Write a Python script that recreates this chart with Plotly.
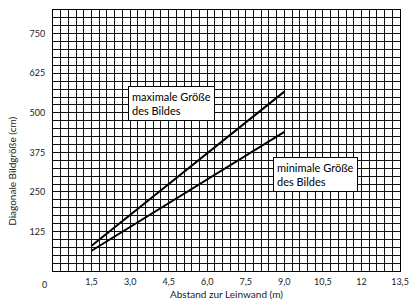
import plotly.graph_objects as go

# Data
distance_m = [1.5, 9.0]
max_size_cm = [80, 567]
min_size_cm = [64, 440]

x_tickvals = [1.5, 3.0, 4.5, 6.0, 7.5, 9.0, 10.5, 12.0, 13.5]
x_ticktext = ["1,5", "3,0", "4,5", "6,0", "7,5", "9,0", "10,5", "12", "13,5"]
y_tickvals = [125, 250, 375, 500, 625, 750]
y_ticktext = ["125", "250", "375", "500", "625", "750"]

FONT = "Lato"
GRID = "#111111"

fig = go.Figure()
fig.add_trace(go.Scatter(x=distance_m, y=max_size_cm, mode="lines",
                         line=dict(color="black", width=2), showlegend=False))
fig.add_trace(go.Scatter(x=distance_m, y=min_size_cm, mode="lines",
                         line=dict(color="black", width=2), showlegend=False))

fig.update_layout(
    width=418, height=300,
    margin=dict(l=53, r=9, t=9, b=29),
    paper_bgcolor="white", plot_bgcolor="white",
    font=dict(family=FONT, size=9, color="#222"),
    xaxis=dict(range=[0, 13.5], tickvals=x_tickvals, ticktext=x_ticktext,
               showgrid=True, gridcolor=GRID, gridwidth=1,
               minor=dict(tick0=0, dtick=0.3, showgrid=True, gridcolor=GRID, gridwidth=1),
               showline=True, linecolor="black", linewidth=1, mirror=True,
               zeroline=False, ticks="", ticklabelstandoff=2,
               tickfont=dict(family=FONT, size=9, color="#222")),
    yaxis=dict(range=[0, 825], tickvals=y_tickvals, ticktext=y_ticktext,
               showgrid=True, gridcolor=GRID, gridwidth=1,
               minor=dict(tick0=0, dtick=25, showgrid=True, gridcolor=GRID, gridwidth=1),
               showline=True, linecolor="black", linewidth=1, mirror=True,
               zeroline=False, ticks="", ticklabelstandoff=5,
               tickfont=dict(family=FONT, size=9, color="#222")),
    annotations=[
        dict(x=0, y=0, xref="x", yref="y", text="0", showarrow=False,
             xanchor="center", yanchor="top", xshift=-9, yshift=-6,
             font=dict(family=FONT, size=9, color="#222")),
        dict(x=0.5, y=0, xref="paper", yref="paper", text="Abstand zur Leinwand (m)",
             showarrow=False, xanchor="center", yanchor="top", yshift=-15,
             font=dict(family=FONT, size=10, color="#222")),
        dict(x=0, y=0.38, xref="paper", yref="paper", text="Diagonale Bildgröße (cm)",
             showarrow=False, xanchor="center", yanchor="middle", xshift=-41, textangle=-90,
             font=dict(family=FONT, size=10, color="#222")),
        dict(x=2.9, y=585, xref="x", yref="y", text="maximale Größe<br>des Bildes",
             showarrow=False, xanchor="left", yanchor="top", align="left",
             bgcolor="white", bordercolor="black", borderwidth=1, borderpad=3,
             font=dict(family=FONT, size=11, color="black")),
        dict(x=8.56, y=361, xref="x", yref="y", text="minimale Größe<br>des Bildes",
             showarrow=False, xanchor="left", yanchor="top", align="left",
             bgcolor="white", bordercolor="black", borderwidth=1, borderpad=3,
             font=dict(family=FONT, size=11, color="black")),
    ],
)

fig.write_html("out.html", config={"displayModeBar": False},
               post_script="document.body.style.margin='0';")
